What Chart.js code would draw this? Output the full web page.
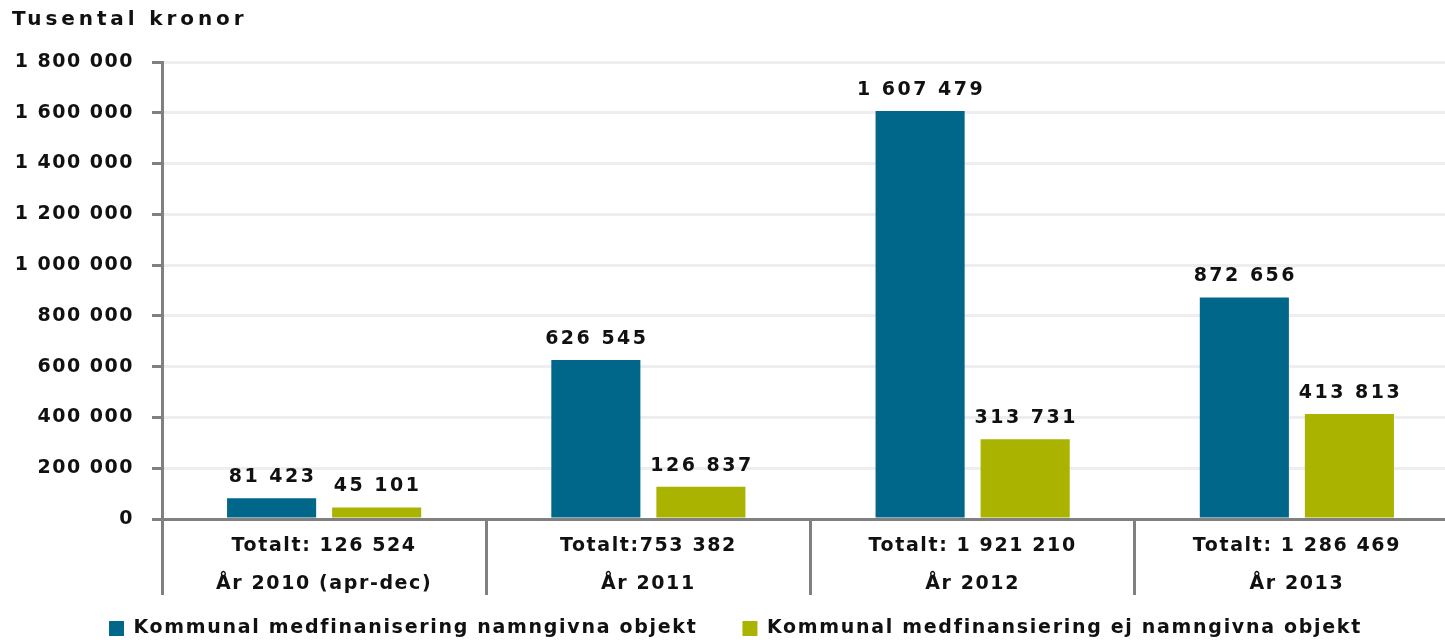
<!DOCTYPE html>
<html>
<head>
<meta charset="utf-8">
<style>
  html, body { margin: 0; padding: 0; background: #fff; overflow: hidden; }
  #wrap { width: 1459px; height: 640px; }
</style>
</head>
<body>
<div id="wrap"><canvas id="chart"></canvas></div>
<script src="https://cdn.jsdelivr.net/npm/chart.js@4.4.0/dist/chart.umd.min.js"></script>
<script>
var years = ['År 2010 (apr-dec)', 'År 2011', 'År 2012', 'År 2013'];
var totals = ['Totalt: 126 524', 'Totalt:753 382', 'Totalt: 1 921 210', 'Totalt: 1 286 469'];
var named = [81423, 626545, 1607479, 872656];
var unnamed = [45101, 126837, 313731, 413813];
var seriesNames = ['Kommunal medfinanisering namngivna objekt', 'Kommunal medfinansiering ej namngivna objekt'];

var FONT = '"DejaVu Sans", sans-serif';

function spaced(n) {
  return String(n).replace(/\B(?=(\d{3})+(?!\d))/g, ' ');
}

// the original text is set loosely, so each part gets its own letter spacing
function withSpacing(obj, fn, sp) {
  if (!obj || obj['_sp_' + fn]) return;
  var orig = obj[fn];
  obj[fn] = function() {
    var ctx = this.ctx;
    ctx.save();
    ctx.letterSpacing = sp;
    var r = orig.apply(this, arguments);
    ctx.restore();
    return r;
  };
  obj['_sp_' + fn] = true;
}

var letterSpacing = {
  id: 'letterSpacing',
  beforeLayout: function(chart) { chart.ctx.letterSpacing = '1.7px'; },
  beforeDraw: function(chart) {
    chart.ctx.letterSpacing = '1.7px';
    withSpacing(chart.scales.x, 'drawLabels', '1.6px');
    withSpacing(chart.scales.y, 'drawLabels', '1.5px');
    withSpacing(chart.titleBlock, 'draw', '3.9px');
    withSpacing(chart.legend, 'draw', '1.7px');
  }
};

var valueLabels = {
  id: 'valueLabels',
  afterDatasetsDraw: function(chart) {
    var ctx = chart.ctx;
    ctx.save();
    ctx.letterSpacing = '2.5px';
    ctx.font = 'bold 19px ' + FONT;
    ctx.fillStyle = '#111';
    ctx.textAlign = 'center';
    ctx.textBaseline = 'middle';
    chart.data.datasets.forEach(function(ds, i) {
      chart.getDatasetMeta(i).data.forEach(function(bar, j) {
        ctx.fillText(spaced(ds.data[j]), bar.x + 1, bar.y - 21);
      });
    });
    ctx.restore();
  }
};

var labels = years.map(function(y, i) { return [totals[i], y]; });

var chart = new Chart(document.getElementById('chart'), {
  type: 'bar',
  data: {
    labels: labels,
    datasets: [
      { label: seriesNames[0], data: named, backgroundColor: '#01678a' },
      { label: seriesNames[1], data: unnamed, backgroundColor: '#a9b300' }
    ]
  },
  options: {
    responsive: true,
    maintainAspectRatio: false,
    animation: false,
    categoryPercentage: 0.648,
    barPercentage: 0.848,
    layout: { padding: { left: 12, right: 0, top: 0, bottom: -8 } },
    plugins: {
      title: {
        display: true,
        text: 'Tusental kronor',
        align: 'start',
        color: '#111',
        font: { family: FONT, size: 20, weight: 'bold' },
        padding: { top: 8, bottom: 30 }
      },
      legend: {
        position: 'bottom',
        labels: {
          color: '#111',
          font: { family: FONT, size: 19, weight: 'bold' },
          boxWidth: 15,
          boxHeight: 15,
          padding: 45
        }
      },
      tooltip: { enabled: false }
    },
    scales: {
      x: {
        afterFit: function(s) { s.height = 55; },
        grid: {
          drawOnChartArea: false,
          color: '#808080',
          lineWidth: 3,
          tickLength: 76,
          offset: true
        },
        border: { color: '#808080', width: 3 },
        ticks: {
          mirror: true,
          color: '#111',
          padding: -46,
          maxRotation: 0,
          font: { family: FONT, size: 19, weight: 'bold', lineHeight: 2 }
        }
      },
      y: {
        min: 0,
        max: 1800000,
        afterFit: function(s) { s.width = 150; },
        grid: {
          color: '#eeeeee',
          lineWidth: 3,
          tickColor: '#808080',
          tickLength: 10
        },
        border: { color: '#808080', width: 3 },
        ticks: {
          stepSize: 200000,
          color: '#111',
          padding: 18,
          font: { family: FONT, size: 19, weight: 'bold' },
          callback: function(v) { return spaced(v); }
        }
      }
    }
  },
  plugins: [letterSpacing, valueLabels]
});
chart.draw();
</script>
</body>
</html>
